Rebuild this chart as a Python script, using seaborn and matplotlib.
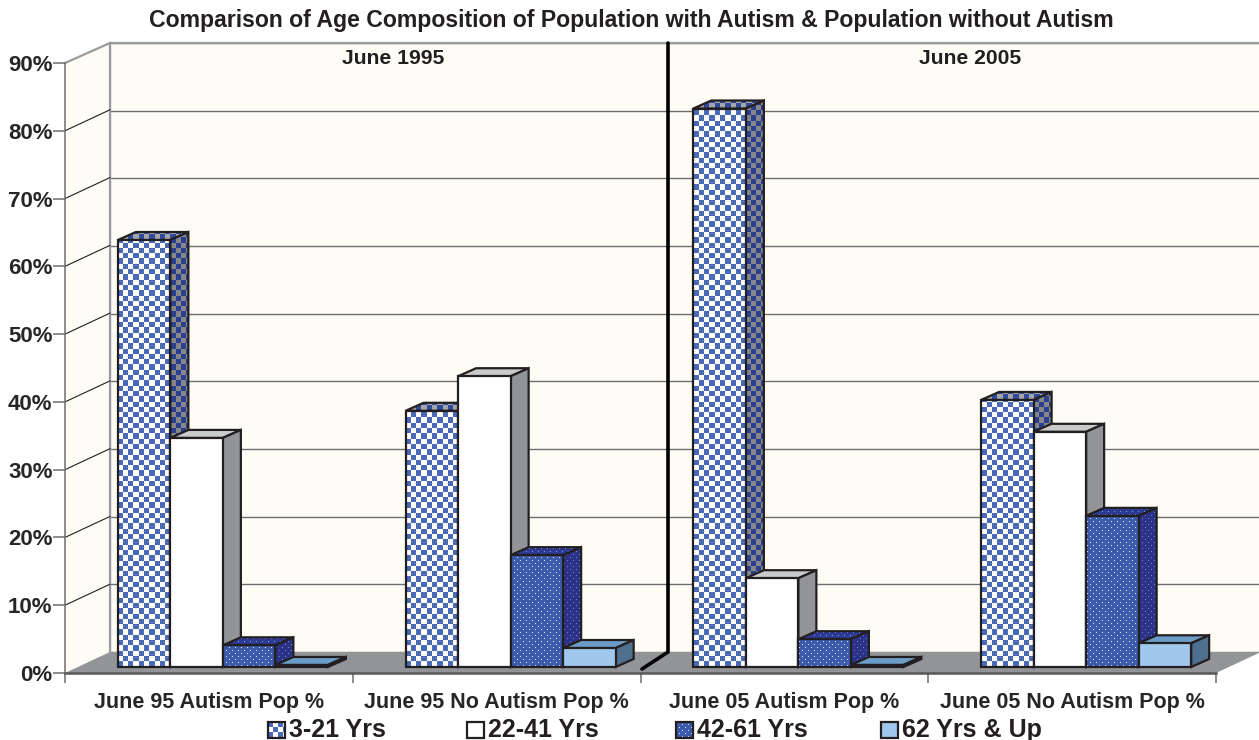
"""
Age composition of the population with / without autism, faux-3D bar chart.
"""

import numpy as np
import pandas as pd
import matplotlib
matplotlib.use("Agg")
import matplotlib.pyplot as plt
from matplotlib.colors import to_rgb
from matplotlib.patches import Polygon
from matplotlib.transforms import IdentityTransform
from matplotlib.ticker import PercentFormatter
import seaborn as sns

categories = ["June 95 Autism Pop %", "June 95 No Autism Pop %",
              "June 05 Autism Pop %", "June 05 No Autism Pop %"]
age_groups = ["3-21 Yrs", "22-41 Yrs", "42-61 Yrs", "62 Yrs & Up"]
ages_3_21 = [63.0, 37.8, 82.4, 39.4]
ages_22_41 = [33.8, 42.9, 13.1, 34.7]
ages_42_61 = [3.2, 16.5, 4.1, 22.3]
ages_62_up = [0.3, 2.8, 0.3, 3.5]
y_ticks = list(range(0, 100, 10))
periods = ["June 1995", "June 2005"]
title = "Comparison of Age Composition of Population with Autism & Population without Autism"

W, H = 1259, 740
INK = "#231f20"
WALL = "#fffcf5"
FLOOR = "#929497"
LINE = "#6d6e71"
DEPTH_X, DEPTH_Y = 18, 8

# pattern, colour a, colour b for front / top / side of each series
STYLES = [
    {"front": ("check", "#4a69b6", "#ffffff"),
     "top": ("check", "#2f4a9a", "#a4a6aa"),
     "side": ("check", "#2a3f8e", "#85878b")},
    {"front": ("solid", "#ffffff", "#ffffff"),
     "top": ("solid", "#c9cacc", "#c9cacc"),
     "side": ("solid", "#929497", "#929497")},
    {"front": ("dots", "#3c5bad", "#dfe6f6"),
     "top": ("dots", "#2c3c96", "#8f9bd2"),
     "side": ("dots", "#2a3388", "#7a84c2")},
    {"front": ("solid", "#9fc8ec", "#9fc8ec"),
     "top": ("solid", "#6c9dc9", "#6c9dc9"),
     "side": ("solid", "#4e6f8e", "#4e6f8e")},
]


def tile(ax, corners, style, z):
    # paint a textured face, corners are display pixels
    corners = np.asarray(corners)
    l, b = np.floor(corners.min(axis=0)).astype(int)
    r, t = np.ceil(corners.max(axis=0)).astype(int)
    w, h = max(r - l, 1), max(t - b, 1)
    rows, cols = np.mgrid[0:h, 0:w]
    rows = h - 1 - rows
    kind, col_a, col_b = style
    if kind == "check":
        mask = (np.floor(cols / 5.3) + np.floor(rows / 5.3)) % 2 == 0
    elif kind == "dots":
        mask = ((cols % 6 == 1) & (rows % 6 == 1)) | ((cols % 6 == 4) & (rows % 6 == 4))
    else:
        mask = np.ones((h, w), dtype=bool)
    if kind == "dots":
        a, c = to_rgb(col_b), to_rgb(col_a)
    else:
        a, c = to_rgb(col_a), to_rgb(col_b)
    img = np.where(mask[..., None], np.array(a), np.array(c))
    im = ax.imshow(img, extent=(l, r, b, t), origin="upper", aspect="auto",
                   interpolation="nearest", transform=IdentityTransform(), zorder=z)
    im.set_clip_path(Polygon(corners, closed=True, transform=IdentityTransform()))
    im.set_clip_box(ax.figure.bbox)
    ax.add_patch(Polygon(corners, closed=True, fill=False, edgecolor=INK, linewidth=1.6,
                         transform=IdentityTransform(), zorder=z + 0.01, clip_on=False))


def px_axes(fig, left, top, right, bottom, **kw):
    return fig.add_axes([left / W, (H - bottom) / H, (right - left) / W, (bottom - top) / H], **kw)


sns.set_style("white")
plt.rcParams["font.family"] = ["Liberation Sans"]
plt.rcParams["font.weight"] = "bold"
plt.rcParams["text.color"] = INK
plt.rcParams["axes.labelcolor"] = INK

df = pd.DataFrame({
    "category": categories * 4,
    "age": np.repeat(age_groups, 4),
    "share": ages_3_21 + ages_22_41 + ages_42_61 + ages_62_up,
})

fig = plt.figure(figsize=(W / 100, H / 100), dpi=100, facecolor="white")

# back wall with the gridlines
ax_back = px_axes(fig, 110, 43, 1261, 652, zorder=1)
ax_back.set_facecolor(WALL)
ax_back.set_xlim(0, 1)
ax_back.set_ylim(0, 90)
ax_back.set_xticks([])
ax_back.set_yticks(y_ticks)
ax_back.set_yticklabels([])
ax_back.grid(axis="y", color=LINE, linewidth=1.0)
ax_back.tick_params(left=False)
for side in ["right", "bottom"]:
    ax_back.spines[side].set_visible(False)
for side in ["left", "top"]:
    ax_back.spines[side].set_color("#9a9b9d")
    ax_back.spines[side].set_linewidth(1.6)

# pixel layer: side wall, floor, divider, captions, legend
ax_px = px_axes(fig, 0, 0, W, H, zorder=2)
ax_px.set_xlim(0, W)
ax_px.set_ylim(H, 0)
ax_px.axis("off")
ax_px.set_autoscale_on(False)
ax_px.add_patch(Polygon([(65, 673), (110, 652), (110, 43), (65, 63)], facecolor=WALL, edgecolor="none"))
ax_px.add_patch(Polygon([(65, 673), (110, 652), (1261, 652), (1216, 673)], facecolor=FLOOR, edgecolor="none"))
ax_px.plot([65, 110], [63, 43], color="#9a9b9d", lw=1.6)
ax_px.plot([110, 110], [43, 652], color="#9a9b9d", lw=1.6)
for tick in y_ticks[1:-1]:
    y_front = 673 - tick * 610 / 90
    ax_px.plot([65, 110], [y_front, y_front - 21], color=INK, lw=0.8)
ax_px.plot([668, 668, 642], [43, 652, 669], color="black", lw=2.6, solid_joinstyle="miter")
ax_px.text(631, 21, title, ha="center", va="center", fontsize=16.6)
ax_px.text(393, 59, periods[0], ha="center", va="center", fontsize=15.2)
ax_px.text(970, 59, periods[1], ha="center", va="center", fontsize=15.2)

legend_x = [268, 467, 676, 881]
for name, x0, style in zip(age_groups, legend_x, STYLES):
    corners = ax_px.transData.transform([(x0, 722), (x0 + 17, 722), (x0 + 17, 738), (x0, 738)])
    tile(ax_px, corners, style["front"], 3)
    ax_px.text(x0 + 21, 730, name, ha="left", va="center", fontsize=18)

# front axis frame with the ticks and labels
ax_front = px_axes(fig, 65, 63, 1216, 673, zorder=3)
ax_front.patch.set_visible(False)
ax_front.set_xlim(-0.5, 3.5)
ax_front.set_ylim(0, 90)
ax_front.set_yticks(y_ticks)
ax_front.yaxis.set_major_formatter(PercentFormatter(decimals=0))
ax_front.set_xticks(np.arange(-0.5, 4, 1))
ax_front.set_xticklabels([])
ax_front.set_xticks(np.arange(4), labels=categories, minor=True)
ax_front.tick_params(axis="y", left=True, length=9, width=1.1, color=LINE, labelsize=16, pad=0)
ax_front.tick_params(axis="x", which="major", bottom=True, length=7.5, width=1.1, color=LINE)
ax_front.tick_params(axis="x", which="minor", bottom=False, length=0, labelsize=15.5, pad=13.5)
sns.despine(ax=ax_front)
ax_front.spines["left"].set_color(LINE)
ax_front.spines["left"].set_linewidth(1.1)
ax_front.spines["bottom"].set_color("#58595b")
ax_front.spines["bottom"].set_linewidth(1.8)

# bars sit a little inside the floor
ax_bars = px_axes(fig, 79, 57, 1230, 667, zorder=4)
sns.barplot(data=df, x="category", y="share", hue="age", hue_order=age_groups,
            order=categories, width=0.73, gap=0, legend=False,
            palette=[s["front"][1] for s in STYLES], ax=ax_bars)
ax_bars.set_xlim(-0.5, 3.5)
ax_bars.set_ylim(0, 90)
ax_bars.axis("off")
ax_bars.set_autoscale_on(False)

for c in range(len(categories)):
    for j, cont in enumerate(ax_bars.containers):
        bar = cont[c]
        bar.set_visible(False)
        (x1, y1), (x2, y2) = ax_bars.transData.transform(
            [(bar.get_x(), 0), (bar.get_x() + bar.get_width(), bar.get_height())])
        dx, dy = DEPTH_X, DEPTH_Y
        z = 5 + j
        tile(ax_bars, [(x1, y2), (x1 + dx, y2 + dy), (x2 + dx, y2 + dy), (x2, y2)], STYLES[j]["top"], z)
        tile(ax_bars, [(x2, y1), (x2 + dx, y1 + dy), (x2 + dx, y2 + dy), (x2, y2)], STYLES[j]["side"], z + 0.1)
        tile(ax_bars, [(x1, y1), (x2, y1), (x2, y2), (x1, y2)], STYLES[j]["front"], z + 0.2)

fig.savefig("out.png", dpi=100)
plt.close(fig)
